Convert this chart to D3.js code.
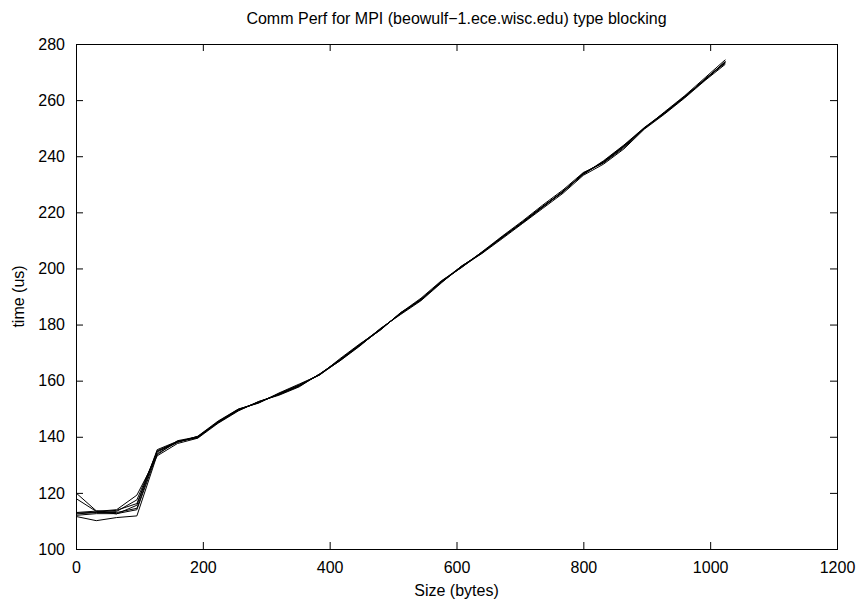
<!DOCTYPE html>
<html>
<head>
<meta charset="utf-8">
<script src="https://cdn.jsdelivr.net/npm/d3@7"></script>
<style>
  body { margin: 0; background: #fff; }
  text { font-family: "Liberation Sans", Arial, sans-serif; fill: #000; }
</style>
</head>
<body>
<div id="chart"></div>
<script>
// message sizes (bytes)
var sizes = [0, 32, 64, 96, 128, 160, 192, 224, 256, 288, 320, 352, 384, 416, 448, 480,
             512, 544, 576, 608, 640, 672, 704, 736, 768, 800, 832, 864, 896, 928, 960, 992, 1024];

// one array per run, time in us
var run1 = [112.5,113.0,113.0,114.5,135.0,138.3,139.8,145.2,149.6,152.3,155.2,158.3,162.2,167.3,172.8,178.3,184.0,188.9,195.2,200.6,205.6,211.0,216.4,222.0,227.4,233.8,238.0,243.6,250.0,255.4,261.2,267.4,273.6];
var run2 = [120.0,113.6,113.4,117.5,134.6,138.0,140.2,145.6,149.9,152.0,155.6,158.8,162.0,167.8,173.2,178.0,184.2,189.4,195.6,200.3,205.9,211.5,216.9,222.6,228.0,234.2,237.6,243.0,249.8,255.8,261.6,268.0,274.4];
var run3 = [118.0,113.4,114.0,119.2,133.2,137.6,139.5,144.8,149.2,152.6,154.8,157.8,162.4,167.0,172.4,178.6,183.6,188.5,194.8,200.9,205.3,210.6,216.0,221.4,226.8,233.2,237.2,242.6,249.6,255.0,260.8,267.0,272.8];
var run4 = [111.6,110.1,111.2,111.8,133.6,138.6,140.0,145.0,149.4,152.5,155.0,158.0,162.3,167.5,173.0,178.5,183.8,189.1,195.0,200.5,205.7,211.2,216.2,221.8,227.6,233.6,238.4,244.0,250.2,255.6,261.0,267.6,273.2];
var run5 = [113.0,113.5,112.5,115.6,135.4,138.4,139.6,145.4,149.8,152.2,155.4,158.5,162.1,167.2,172.6,178.2,184.1,188.8,195.4,200.8,205.5,211.1,216.6,222.2,227.2,234.0,237.8,243.4,250.1,255.3,261.4,267.2,273.8];
var run6 = [112.0,112.6,112.6,114.0,134.0,138.1,140.1,145.3,149.5,152.4,155.1,158.2,162.3,167.4,172.9,178.4,183.9,189.0,195.1,200.7,205.8,210.9,216.5,222.1,227.5,233.5,238.2,243.8,249.9,255.5,261.3,267.3,273.4];
var run7 = [112.8,113.1,113.8,116.2,134.8,138.2,139.9,145.1,149.7,152.1,155.3,158.4,162.0,167.1,172.7,178.1,184.3,188.7,195.3,200.4,205.4,211.3,216.3,221.9,227.3,233.9,237.9,243.5,250.0,255.2,261.1,267.5,273.7];

var runs = [run1, run2, run3, run4, run5, run6, run7];

var xTicks = [0, 200, 400, 600, 800, 1000, 1200];
var yTicks = [100, 120, 140, 160, 180, 200, 220, 240, 260, 280];

var width   = 858,
    height  = 601,
    margin  = {top: 44, right: 21, bottom: 52, left: 76},
    w       = width - margin.left - margin.right,
    h       = height - margin.top - margin.bottom;

var svg = d3.select("#chart")
            .append("svg")
            .attr("width", width)
            .attr("height", height);

var x = d3.scaleLinear().domain([0, 1200]).range([0, w]);
var y = d3.scaleLinear().domain([100, 280]).range([h, 0]);

var g = svg.append("g")
           .attr("transform", "translate(" + margin.left + "," + margin.top + ")");

// ticks on all four sides, pointing inwards like gnuplot
var axBottom = g.append("g")
                .attr("transform", "translate(0," + h + ")")
                .call(d3.axisBottom(x).tickValues(xTicks).tickSize(-7).tickPadding(13).tickFormat(d3.format("d")));
var axLeft   = g.append("g")
                .call(d3.axisLeft(y).tickValues(yTicks).tickSize(-7).tickPadding(11).tickFormat(d3.format("d")));
var axTop    = g.append("g")
                .call(d3.axisTop(x).tickValues(xTicks).tickSize(-7).tickFormat(""));
var axRight  = g.append("g")
                .attr("transform", "translate(" + w + ",0)")
                .call(d3.axisRight(y).tickValues(yTicks).tickSize(-7).tickFormat(""));

[axBottom, axLeft, axTop, axRight].forEach(function (a) {
  a.select(".domain").remove();
  a.selectAll("line").attr("stroke", "#000");
  a.selectAll("text").style("font-size", "16px").attr("font-family", null);
});

g.append("rect")
 .attr("x", 0.5).attr("y", 0.5)
 .attr("width", w).attr("height", h)
 .attr("fill", "none")
 .attr("stroke", "#000");

var line = d3.line()
             .x(function (d, i) { return x(sizes[i]); })
             .y(function (d) { return y(d); });

g.selectAll(".run")
 .data(runs)
 .enter()
 .append("path")
 .attr("class", "run")
 .attr("fill", "none")
 .attr("stroke", "#000")
 .attr("stroke-width", 1)
 .attr("d", line);

svg.append("text")
   .attr("x", margin.left + w / 2)
   .attr("y", 24)
   .attr("text-anchor", "middle")
   .style("font-size", "16px")
   .text("Comm Perf for MPI (beowulf\u22121.ece.wisc.edu) type blocking");

svg.append("text")
   .attr("x", margin.left + w / 2)
   .attr("y", 596)
   .attr("text-anchor", "middle")
   .style("font-size", "16px")
   .text("Size (bytes)");

svg.append("text")
   .attr("transform", "translate(24," + (margin.top + h / 2) + ") rotate(-90)")
   .attr("text-anchor", "middle")
   .style("font-size", "16px")
   .text("time (us)");
</script>
</body>
</html>
